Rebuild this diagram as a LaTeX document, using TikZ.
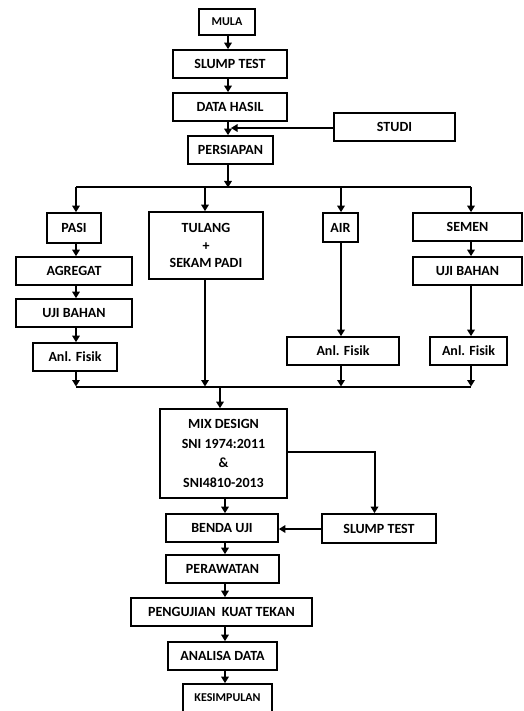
\documentclass[tikz,border=0pt]{standalone}
\usepackage{fontspec}
\setmainfont{Carlito}
\usetikzlibrary{arrows.meta}
\begin{document}
\begin{tikzpicture}[x=1pt,y=-1pt,
  box/.style={draw, line width=1.7pt, font=\fontsize{14}{17.5}\selectfont\bfseries, align=center, inner sep=0pt},
  small/.style={font=\fontsize{12}{14}\selectfont\bfseries},
  sz/.style 2 args={minimum width=#1pt, minimum height=#2pt},
  ln/.style={line width=2pt},
  arr/.style={line width=2pt, -{Triangle[length=6.5pt,width=7.5pt]}}]
\useasboundingbox (0,0) rectangle (523,711);
% axes
\coordinate (xa) at (228,0);
\coordinate (xl) at (76,0);
\coordinate (xt) at (205,0);
\coordinate (xw) at (341,0);
\coordinate (xs) at (471,0);
\coordinate (xm) at (220,0);
\coordinate (xc) at (225,0);
\coordinate (xq) at (374.5,0);
\coordinate (busT) at (228,187.5);
\coordinate (busB) at (220,386.5);
\coordinate (ym) at (0,451.7);
\coordinate (yb) at (0,529);
% nodes
\node[box,small,sz={56}{26}] (mula) at (227,22) {MULA};
\node[box,sz={114}{28}] (slump1) at (230,64) {SLUMP TEST};
\node[box,sz={114}{28}] (data) at (230,107) {DATA HASIL};
\node[box,sz={121}{28}] (studi) at (394.5,127) {STUDI};
\node[box,sz={85}{28}] (pers) at (230.5,150) {PERSIAPAN};
\node[box,sz={54}{30}] (pasi) at (74,228) {PASI};
\node[box,sz={116}{28}] (agr) at (74,271) {AGREGAT};
\node[box,sz={116}{28}] (ujil) at (74,313) {UJI BAHAN};
\node[box,sz={84}{28}] (anll) at (75,357) {Anl. Fisik};
\node[box,sz={114}{67}] (tul) at (206,245.5) {TULANG\\+\\SEKAM PADI};
\node[box,sz={35}{29}] (air) at (340.5,227.5) {AIR};
\node[box,sz={112}{28}] (anlw) at (343,351) {Anl. Fisik};
\node[box,sz={109}{28}] (semen) at (467.5,227) {SEMEN};
\node[box,sz={109}{28}] (ujir) at (467.5,271) {UJI BAHAN};
\node[box,sz={77}{28}] (anlr) at (468.5,351) {Anl. Fisik};
\node[box,sz={127}{89},font=\fontsize{14}{19.5}\selectfont\bfseries] (mix) at (223.5,453.5) {MIX DESIGN\\SNI 1974:2011\\\&\\SNI4810-2013};
\node[box,sz={114}{29}] (slump2) at (379,528.5) {SLUMP TEST};
\node[box,sz={112}{28}] (benda) at (222,528) {BENDA UJI};
\node[box,sz={113}{28}] (per) at (222.5,569) {PERAWATAN};
\node[box,sz={181}{28}] (peng) at (221.5,612) {PENGUJIAN\ \ KUAT TEKAN};
\node[box,sz={109}{28}] (anal) at (222.5,656) {ANALISA DATA};
\node[box,small,sz={89}{28}] (kes) at (227.5,698) {KESIMPULAN};
% top chain
\draw[arr] (mula.south -| xa) -- (slump1.north -| xa);
\draw[arr] (slump1.south -| xa) -- (data.north -| xa);
\draw[arr] (data.south -| xa) -- (pers.north -| xa);
\draw[arr,shorten >=3pt] (studi.west |- 0,128) -- (xa |- 0,128);
\draw[arr] (pers.south -| xa) -- (busT);
% top bus
\draw[ln] (xl |- busT) -- (xs |- busT);
\draw[arr] (xl |- busT) -- (pasi.north -| xl);
\draw[arr] (xt |- busT) -- (tul.north -| xt);
\draw[arr] (xw |- busT) -- (air.north -| xw);
\draw[arr] (xs |- busT) -- (semen.north -| xs);
% columns
\draw[arr] (pasi.south -| xl) -- (agr.north -| xl);
\draw[arr] (agr.south -| xl) -- (ujil.north -| xl);
\draw[arr] (ujil.south -| xl) -- (anll.north -| xl);
\draw[arr] (air.south -| xw) -- (anlw.north -| xw);
\draw[arr] (semen.south -| xs) -- (ujir.north -| xs);
\draw[arr] (ujir.south -| xs) -- (anlr.north -| xs);
% bottom bus
\draw[arr] (anll.south -| xl) -- (xl |- busB);
\draw[arr] (tul.south -| xt) -- (xt |- busB);
\draw[arr] (anlw.south -| xw) -- (xw |- busB);
\draw[arr] (anlr.south -| xs) -- (xs |- busB);
\draw[ln] (xl |- busB) -- (xs |- busB);
\draw[arr] (busB) -- (mix.north -| xm);
% lower part
\draw[arr] (mix.east |- ym) -- (xq |- ym) -- (slump2.north -| xq);
\draw[arr] (slump2.west |- yb) -- (benda.east |- yb);
\draw[arr] (mix.south -| xc) -- (benda.north -| xc);
\draw[arr] (benda.south -| xc) -- (per.north -| xc);
\draw[arr] (per.south -| xc) -- (peng.north -| xc);
\draw[arr] (peng.south -| xc) -- (anal.north -| xc);
\draw[arr] (anal.south -| xc) -- (kes.north -| xc);
\end{tikzpicture}
\end{document}
